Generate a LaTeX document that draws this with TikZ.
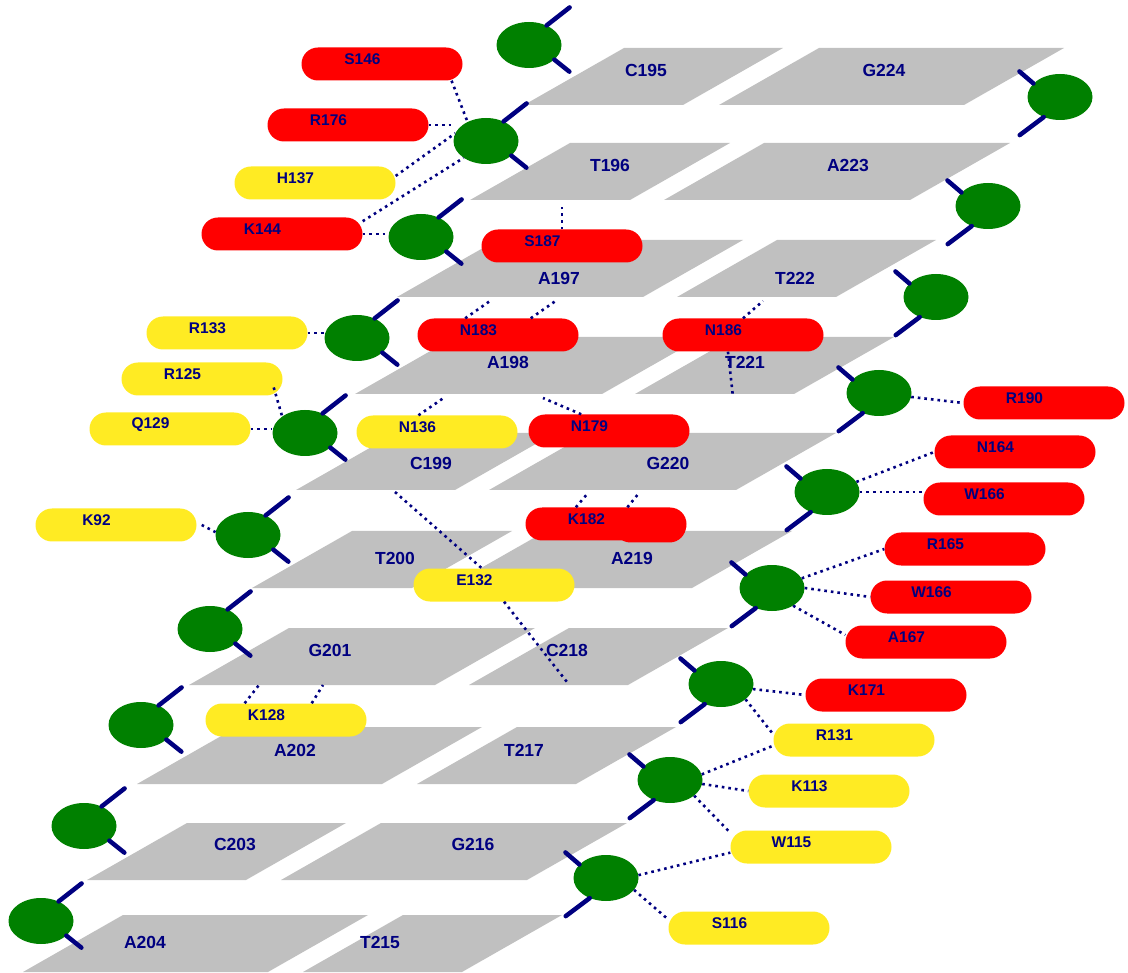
\documentclass[tikz,border=0pt]{standalone}
\usepackage{fontspec}
\setmainfont{Liberation Sans}
\usetikzlibrary{shapes.geometric}

\definecolor{basegrey}{RGB}{192,192,192}
\definecolor{pillred}{RGB}{255,0,0}
\definecolor{pillyellow}{RGB}{255,235,35}
\definecolor{phosgreen}{RGB}{0,128,0}
\definecolor{ink}{RGB}{0,0,128}

\tikzset{
  pillshape/.style={rectangle, rounded corners=16.5pt, minimum width=161pt, minimum height=33pt, inner sep=0pt},
  pill/.style={pillshape, label={[pilltext]center:#1}},
  redpill/.style={pill=#1, fill=pillred},
  yellowpill/.style={pill=#1, fill=pillyellow},
  pilltext/.style={text=ink, font=\fontsize{15.5}{15.5}\selectfont\bfseries, inner sep=0pt, xshift=-19.5pt, yshift=4.5pt},
  baselabel/.style={text=ink, font=\fontsize{17.5}{18}\selectfont\bfseries, inner sep=0pt},
  phos/.style={ellipse, fill=phosgreen, minimum width=65pt, minimum height=46pt, inner sep=0pt},
  stick/.style={draw=ink, line width=4.5pt, line cap=round},
  contact/.style={draw=ink, line width=2.6pt, dash pattern=on 2.6pt off 4pt}
}

\begin{document}
\begin{tikzpicture}[x=1pt, y=-1pt]
\useasboundingbox (0,0) rectangle (1128,973);

% bases: lower left x / width / top y / label x / label y / name
\foreach \bx/\bw/\yt/\lx/\ly/\nm in {
  524/159/48/646/70/C195,   719/245/48/884/70/G224,
  470/160/143/610/165/T196, 664/246/143/848/165/A223,
  397/246/240/559/278/A197, 677/159/240/795/278/T222,
  355/247/337/508/362/A198, 635/159/337/745/362/T221,
  296/159/433/431/463/C199, 489/247/433/668/463/G220,
  252/160/531/395/558/T200, 446/246/531/632/558/A219,
  189/246/628/330/650/G201, 469/159/628/567/650/C218,
  137/245/727/295/750/A202, 417/159/727/524/750/T217,
  87/159/823/235/844/C203,  281/246/823/473/844/G216,
  23/245/915/145/942/A204,  303/159/915/380/942/T215}
{
  \fill[basegrey] (\bx,\yt+57) -- (\bx+\bw,\yt+57) -- (\bx+\bw+100,\yt) -- (\bx+100,\yt) -- cycle;
  \node[baselabel] (\nm) at (\lx,\ly) {\nm};
}

% contact points on the bases
\coordinate (t196c) at (562,207);
\coordinate (a197c1) at (490,301);
\coordinate (a197c2) at (557,300);
\coordinate (t222c) at (763,301);
\coordinate (t221c) at (733,397);
\coordinate (a198c1) at (445,397);
\coordinate (a198c2) at (543,398);
\coordinate (g220c1) at (588,493);
\coordinate (g220c2) at (639,493);
\coordinate (c199c) at (395,492);
\coordinate (c218c) at (567,682);
\coordinate (g201c1) at (259,685);
\coordinate (g201c2) at (323,685);

% phosphates, left strand
\foreach \p/\x/\y in {p1/529/45, p2/486/141, p3/421/237, p4/357/338, p5/305/433,
                      p6/248/535, p7/210/629, p8/141/725, p9/84/826, p10/41/921} {
  \node[phos] (\p) at (\x,\y) {};
  \draw[stick] (\p.48) -- ++(23,-18) (\p.-30) -- ++(15,12);
}
% phosphates, right strand
\foreach \q/\x/\y in {q1/1060/97, q2/988/206, q3/936/297, q4/879/393, q5/827/492,
                      q6/772/588, q7/721/684, q8/670/780, q9/606/878} {
  \node[phos] (\q) at (\x,\y) {};
  \draw[stick] (\q.153) -- ++(-14,-12) (\q.231) -- ++(-24,18);
}

% residues
\node[redpill=S146] (s146) at (382,64) {};
\node[redpill=R176] (r176) at (348,125) {};
\node[yellowpill=H137] (h137) at (315,183) {};
\node[redpill=K144] (k144) at (282,234) {};
\node[redpill=S187] (s187) at (562,246) {};
\node[yellowpill=R133] (r133) at (227,333) {};
\node[redpill=N183] (n183) at (498,335) {};
\node[redpill=N186] (n186) at (743,335) {};
\node[yellowpill=R125] (r125) at (202,379) {};
\node[yellowpill=Q129] (q129) at (170,429) {};
\node[yellowpill=N136] (n136) at (437,432) {};
\node[redpill=N179] (n179) at (609,431) {};
\node[yellowpill=K92] (k92) at (116,525) {};
\node[pillshape, fill=pillred, minimum width=72pt, minimum height=31pt] (k182x) at (650,527) {};
\node[redpill=K182] (k182) at (606,524) {};
\node[yellowpill=E132] (e132) at (494,585) {};
\node[yellowpill=K128] (k128) at (286,720) {};
\node[redpill=R190] (r190) at (1044,403) {};
\node[redpill=N164] (n164) at (1015,452) {};
\node[redpill=W166] (w166a) at (1004,499) {};
\node[redpill=R165] (r165) at (965,549) {};
\node[redpill=W166] (w166b) at (951,597) {};
\node[redpill=A167] (a167) at (926,642) {};
\node[redpill=K171] (k171) at (886,695) {};
\node[yellowpill=R131] (r131) at (854,740) {};
\node[yellowpill=K113] (k113) at (829,791) {};
\node[yellowpill=W115] (w115) at (811,847) {};
\node[yellowpill=S116] (s116) at (749,928) {};

% contacts to the left strand
\draw[contact] ([xshift=-9pt]s146.-12) -- (p2.134);
\draw[contact] (r176.east) -- (r176.east -| p2.west);
\draw[contact] (h137.5) -- (p2.166);
\draw[contact] (k144.9) -- (p2.217);
\draw[contact] (k144.east) -- (k144.east -| p3.west);
\draw[contact] (r133.east) -- (r133.east -| p4.west);
\draw[contact] ([xshift=-9pt]r125.-6) -- (p5.144);
\draw[contact] (q129.east) -- (q129.east -| p5.west);
\draw[contact] ([xshift=5pt]k92.east) -- (p6.175);

% contacts to the right strand
\draw[contact] (q4.-7) -- (r190.west);
\draw[contact] (q5.19) -- (n164.west);
\draw[contact] (q5.east) -- (q5.east -| w166a.west);
\draw[contact] (q6.18) -- (r165.west);
\draw[contact] (q6.east) -- (w166b.west);
\draw[contact] (q6.-40) -- (a167.175);
\draw[contact] (q7.-9) -- (k171.west);
\draw[contact] (q7.-32) -- (r131.176);
\draw[contact] (q8.10) -- (r131.184);
\draw[contact] (q8.-7) -- (k113.west);
\draw[contact] (q8.-33) -- (w115.170);
\draw[contact] (q9.5) -- (w115.184);
\draw[contact] (q9.-23) -- (s116.174);

% contacts to the bases
\draw[contact] (s187.north) -- (t196c);
\draw[contact] (n183.153) -- (a197c1);
\draw[contact] (n183.27) -- (a197c2);
\draw[contact] (n186.north) -- (t222c);
\draw[contact] (n186.-132) -- (t221c);
\draw[contact] (n136.138) -- (a198c1);
\draw[contact] (n179.149) -- (a198c2);
\draw[contact] (k182.151) -- (g220c1);
\draw[contact] (k182.38) -- (g220c2);
\draw[contact] (c199c) -- (e132.126);
\draw[contact] (e132.-59) -- (c218c);
\draw[contact] (k128.158) -- (g201c1);
\draw[contact] (k128.33) -- (g201c2);
\end{tikzpicture}
\end{document}
